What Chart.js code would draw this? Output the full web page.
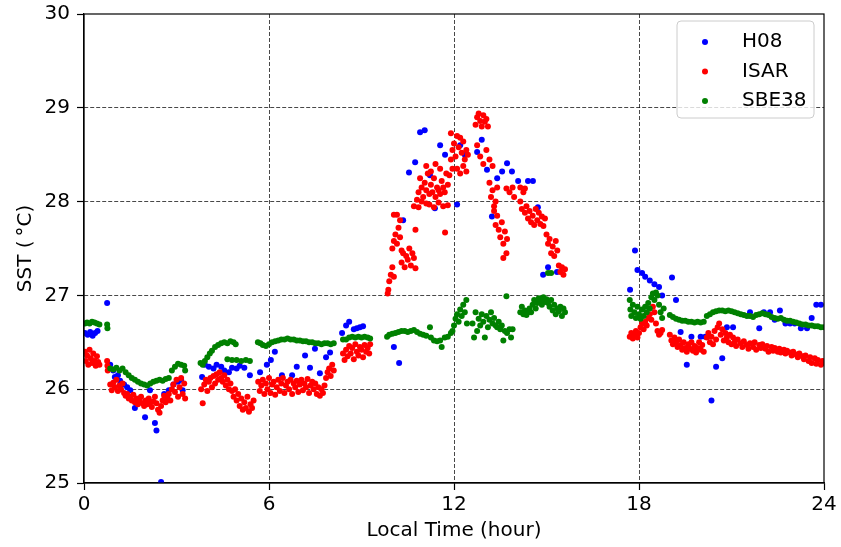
<!DOCTYPE html>
<html>
<head>
<meta charset="utf-8">
<script src="https://cdn.jsdelivr.net/npm/chart.js@4/dist/chart.umd.min.js"></script>
<style>
html,body{margin:0;padding:0;background:#fff;}
#wrap{width:841px;height:547px;position:relative;}
</style>
</head>
<body>
<div id="wrap"><canvas id="c" width="841" height="547"></canvas></div>
<script>
// ---- data: [local time (hour), SST (°C)] ----
const seriesNames = ['H08', 'ISAR', 'SBE38'];
const xTicks = [0, 6, 12, 18, 24];
const yTicks = [25, 26, 27, 28, 29, 30];

const h08 = [
[0.03,26.60],[0.12,26.58],[0.2,26.61],[0.28,26.57],[0.36,26.60],[0.44,26.62],[0.75,26.92],
[0.85,26.26],[0.95,26.20],[1.0,26.13],[1.1,26.15],[1.17,26.09],[1.3,26.05],[1.4,26.02],[1.5,25.99],[1.65,25.80],[1.8,25.90],[1.98,25.70],[2.14,25.99],[2.3,25.64],[2.35,25.56],[2.5,25.01],[2.6,25.95],[2.75,25.99],[2.9,26.05],[3.05,26.08],[3.15,26.10],[3.2,25.99],
[3.83,26.13],[3.92,26.26],[4.05,26.24],[4.2,26.22],[4.3,26.26],[4.45,26.24],[4.55,26.20],[4.7,26.18],[4.8,26.23],[4.95,26.22],[5.05,26.25],[5.2,26.23],[5.38,26.15],
[5.71,26.18],[5.93,26.26],[6.06,26.31],[6.19,26.40],[6.42,26.15],[6.75,26.15],[6.9,26.24],[7.17,26.36],[7.33,26.23],[7.49,26.43],[7.65,26.17],[7.85,26.34],[7.98,26.39],
[8.37,26.60],[8.5,26.68],[8.6,26.72],[8.75,26.64],[8.85,26.65],[8.95,26.66],[9.05,26.67],
[10.05,26.45],[10.22,26.28],[10.35,27.80],[10.54,28.31],[10.74,28.42],[10.9,28.74],[11.05,28.76],[11.22,28.28],[11.38,27.93],[11.55,28.60],[11.71,28.50],[12.1,27.97],[12.2,28.60],[12.35,28.50],[12.75,28.53],[12.9,28.66],[13.07,28.34],[13.23,27.84],[13.4,28.25],[13.56,28.32],[13.72,28.41],[13.88,28.32],[14.08,28.22],[14.4,28.22],[14.56,28.22],[14.72,27.94],[14.89,27.22],[15.05,27.30],[15.34,27.25],
[17.71,27.06],[17.87,27.48],[17.95,27.27],[18.1,27.24],[18.2,27.20],[18.35,27.16],[18.5,27.12],[18.65,27.09],[18.75,27.00],[19.07,27.19],[19.2,26.95],[19.35,26.61],[19.55,26.26],[19.7,26.56],[20.0,26.56],[20.15,26.56],[20.35,25.88],[20.5,26.24],[20.7,26.33],[20.85,26.66],[21.05,26.66],[21.6,26.82],[21.9,26.65],[22.05,26.82],[22.25,26.82],[22.4,26.74],[22.57,26.84],[22.75,26.70],[22.9,26.70],[23.05,26.70],[23.25,26.65],[23.45,26.65],[23.6,26.76],[23.75,26.90],[23.9,26.90]
];

const isar = [
[0.03,26.40],[0.06,26.30],[0.1,26.36],[0.14,26.26],[0.18,26.42],[0.22,26.33],[0.26,26.28],[0.3,26.38],[0.34,26.30],[0.38,26.25],[0.42,26.35],[0.46,26.29],[0.5,26.26],[0.75,26.30],[0.76,26.25],[0.77,26.20],
[0.85,26.05],[0.9,25.99],[0.95,26.07],[1.0,26.02],[1.05,26.10],[1.1,25.98],[1.15,26.04],[1.2,26.00],[1.25,26.06],[1.3,25.96],[1.35,25.93],[1.4,25.95],[1.45,25.90],[1.5,25.92],[1.55,25.88],[1.6,25.94],[1.65,25.86],[1.7,25.90],[1.75,25.84],[1.8,25.88],[1.85,25.92],[1.9,25.85],[1.95,25.82],[2.0,25.88],[2.05,25.84],[2.1,25.90],[2.15,25.86],[2.2,25.81],[2.25,25.87],[2.3,25.92],[2.35,25.85],[2.4,25.78],[2.45,25.75],[2.5,25.82],[2.55,25.88],[2.6,25.93],[2.65,25.86],[2.7,25.91],[2.75,25.95],[2.8,25.88],[2.85,26.00],[2.9,26.05],[2.95,25.97],[3.0,26.10],[3.05,25.92],[3.1,26.02],[3.15,26.12],[3.2,25.95],[3.25,26.06],[3.28,25.90],
[3.8,26.00],[3.85,25.85],[3.9,26.05],[3.95,26.10],[4.0,25.98],[4.05,26.08],[4.1,26.12],[4.15,26.02],[4.2,26.14],[4.25,26.06],[4.3,26.16],[4.35,26.10],[4.4,26.18],[4.45,26.12],[4.5,26.08],[4.55,26.15],[4.6,26.04],[4.65,26.10],[4.7,26.00],[4.75,26.06],[4.8,25.98],[4.85,25.92],[4.9,26.00],[4.95,25.88],[5.0,25.95],[5.05,25.82],[5.1,25.90],[5.15,25.78],[5.2,25.86],[5.25,25.80],[5.3,25.92],[5.35,25.76],[5.4,25.84],[5.45,25.80],[5.5,25.88],
[5.65,26.08],[5.7,25.98],[5.75,26.04],[5.8,26.10],[5.85,25.95],[5.9,26.06],[5.95,26.00],[6.0,26.12],[6.05,25.96],[6.1,26.05],[6.15,26.08],[6.2,25.94],[6.25,26.02],[6.3,26.10],[6.35,25.98],[6.4,26.06],[6.45,26.12],[6.5,25.96],[6.55,26.04],[6.6,26.08],[6.65,26.00],[6.7,26.10],[6.75,25.95],[6.8,26.06],[6.85,26.02],[6.9,26.09],[6.95,25.97],[7.0,26.05],[7.05,26.10],[7.1,25.99],[7.15,26.06],[7.2,26.02],[7.25,26.11],[7.3,25.96],[7.35,26.04],[7.4,26.08],[7.45,26.00],[7.5,26.06],[7.55,25.95],[7.6,26.02],[7.65,25.93],[7.7,26.00],[7.75,25.96],[7.8,26.04],[7.85,26.12],[7.9,26.18],[7.95,26.22],[8.0,26.14],[8.05,26.26],[8.1,26.20],
[8.4,26.38],[8.45,26.31],[8.5,26.42],[8.55,26.35],[8.6,26.46],[8.65,26.38],[8.7,26.44],[8.75,26.32],[8.8,26.48],[8.85,26.40],[8.9,26.36],[8.95,26.45],[9.0,26.42],[9.05,26.34],[9.1,26.47],[9.15,26.40],[9.2,26.44],[9.25,26.38],[9.28,26.48],
[9.85,27.02],[9.87,27.06],[9.9,27.15],[9.95,27.22],[10.0,27.30],[10.05,27.20],
[10.0,27.50],[10.05,27.58],[10.1,27.65],[10.15,27.55],[10.2,27.72],[10.25,27.62],[10.3,27.48],[10.05,27.86],[10.15,27.86],[10.25,27.80],
[10.3,27.35],[10.35,27.45],[10.4,27.30],[10.45,27.42],[10.5,27.38],[10.55,27.50],[10.6,27.32],[10.65,27.45],[10.7,27.40],[10.75,27.29],[10.75,27.70],
[10.7,27.95],[10.8,28.02],[10.85,27.94],[10.95,28.00],[11.1,27.98],
[10.85,28.10],[10.9,28.25],[10.95,28.15],[11.0,28.05],[11.05,28.20],[11.1,28.12],[11.15,28.30],[11.2,28.08],[11.25,28.18],[11.3,28.10],[11.35,28.25],[11.4,28.05],[11.45,28.15],[11.5,28.12],[11.55,28.08],[11.6,28.22],[11.65,28.15],[11.7,28.10],[11.75,28.30],[11.8,28.18],[11.85,28.28],[11.9,28.45],[11.95,28.35],
[11.1,28.38],[11.25,28.32],[11.4,28.40],[11.55,28.35],
[11.2,27.97],[11.35,27.94],[11.5,27.99],[11.65,27.95],[11.8,27.96],[11.71,27.67],
[11.9,28.73],[11.95,28.55],[12.0,28.62],[12.05,28.48],[12.1,28.70],[12.15,28.58],[12.2,28.68],[12.25,28.52],[12.3,28.64],[12.35,28.45],[12.4,28.55],[12.45,28.50],
[12.1,28.35],[12.2,28.30],[12.3,28.38],[12.4,28.32],
[12.7,28.82],[12.75,28.90],[12.8,28.94],[12.85,28.86],[12.9,28.80],[12.95,28.92],[13.0,28.85],[13.05,28.88],[13.1,28.80],
[12.75,28.60],[12.85,28.48],[12.95,28.40],[13.05,28.55],[13.15,28.45],[13.25,28.38],
[13.15,28.20],[13.2,28.05],[13.25,28.12],[13.3,27.95],[13.35,28.00],[13.4,28.15],
[13.3,27.90],[13.35,27.75],[13.4,27.85],[13.45,27.70],[13.5,27.62],[13.55,27.78],[13.6,27.55],[13.65,27.68],[13.7,27.45],[13.72,27.60],[13.6,27.40],
[13.7,28.14],[13.8,28.10],[13.9,28.15],[13.95,28.05],[14.15,28.15],[14.3,28.14],
[14.15,28.00],[14.2,27.92],[14.25,28.10],[14.3,27.88],[14.35,27.95],[14.4,27.82],[14.45,27.90],[14.5,27.78],[14.55,27.85],[14.6,27.75],[14.65,27.92],[14.7,27.80],[14.75,27.88],[14.8,27.76],[14.85,27.84],[14.9,27.74],[14.95,27.82],
[15.0,27.65],[15.05,27.55],[15.1,27.60],[15.15,27.45],[15.2,27.52],[15.25,27.42],[15.3,27.58],[15.35,27.48],
[15.4,27.32],[15.45,27.25],[15.5,27.30],[15.55,27.22],[15.6,27.28],
[17.7,26.56],[17.75,26.60],[17.8,26.54],[17.85,26.58],[17.9,26.62],[17.95,26.55],[18.0,26.60],[18.05,26.66],[18.1,26.70],[18.15,26.64],[18.2,26.72],[18.25,26.68],[18.3,26.76],[18.35,26.80],[18.4,26.74],[18.45,26.88],[18.5,26.82],[18.55,26.70],[18.6,26.62],[18.65,26.58],[18.7,26.60],[18.75,26.63],
[19.0,26.58],[19.05,26.52],[19.1,26.48],[19.15,26.55],[19.2,26.50],[19.25,26.45],[19.3,26.53],[19.35,26.47],[19.4,26.42],[19.45,26.50],[19.5,26.44],[19.55,26.40],[19.6,26.48],[19.65,26.43],[19.7,26.50],[19.75,26.41],[19.8,26.46],[19.85,26.39],[19.9,26.44],[19.95,26.50],[20.0,26.42],[20.05,26.47],[20.1,26.40],
[20.2,26.55],[20.25,26.60],[20.3,26.50],[20.35,26.56],[20.4,26.48],[20.45,26.62],[20.5,26.53],[20.55,26.66],[20.6,26.70],[20.65,26.58],[20.7,26.64],[20.75,26.52],[20.8,26.60],[20.85,26.55],[20.9,26.50],[20.95,26.58],[21.0,26.48],[21.05,26.55],[21.1,26.50],[21.15,26.46],
[21.2,26.53],[21.3,26.49],[21.35,26.45],[21.4,26.51],[21.5,26.47],[21.55,26.43],[21.6,26.49],[21.7,26.45],[21.75,26.50],[21.8,26.42],[21.9,26.47],[21.95,26.44],[22.0,26.48],[22.1,26.43],[22.15,26.46],[22.2,26.40],[22.3,26.45],[22.35,26.41],[22.4,26.44],[22.5,26.40],[22.55,26.43],[22.6,26.39],[22.7,26.42],[22.75,26.38],[22.8,26.41],[22.9,26.39],[22.95,26.36],[23.0,26.40],[23.1,26.37],[23.15,26.34],[23.2,26.38],[23.3,26.35],[23.35,26.32],[23.4,26.36],[23.5,26.30],[23.55,26.34],[23.6,26.28],[23.7,26.33],[23.75,26.27],[23.8,26.31],[23.9,26.26],[23.95,26.30],[24.0,26.28]
];

const sbe38 = [
[0.03,26.70],[0.1,26.71],[0.18,26.70],[0.26,26.72],[0.34,26.71],[0.42,26.70],[0.5,26.69],[0.75,26.69],[0.76,26.65],
[0.85,26.22],[0.95,26.21],[1.05,26.23],[1.15,26.20],[1.25,26.22],[1.35,26.18],[1.45,26.15],[1.55,26.12],[1.65,26.10],[1.75,26.08],[1.85,26.06],[1.95,26.05],[2.05,26.04],[2.15,26.06],[2.25,26.08],[2.35,26.09],[2.45,26.10],[2.55,26.09],[2.65,26.11],[2.75,26.12],[2.85,26.20],[2.95,26.24],[3.05,26.27],[3.15,26.26],[3.25,26.25],[3.28,26.20],
[3.78,26.28],[3.85,26.26],[3.92,26.30],[4.0,26.34],[4.08,26.38],[4.15,26.41],[4.25,26.45],[4.35,26.47],[4.45,26.49],[4.55,26.50],[4.65,26.49],[4.75,26.51],[4.85,26.50],[4.92,26.48],
[4.65,26.32],[4.8,26.31],[4.95,26.31],[5.1,26.30],[5.25,26.31],[5.38,26.30],
[5.64,26.50],[5.72,26.49],[5.8,26.47],[5.9,26.46],[6.0,26.48],[6.1,26.50],[6.2,26.51],[6.3,26.52],[6.4,26.53],[6.5,26.53],[6.6,26.54],[6.7,26.53],[6.8,26.53],[6.9,26.52],[7.0,26.52],[7.1,26.51],[7.2,26.51],[7.3,26.50],[7.4,26.50],[7.5,26.49],[7.6,26.49],[7.7,26.48],[7.8,26.49],[7.9,26.49],[8.0,26.48],[8.1,26.49],
[8.4,26.53],[8.5,26.53],[8.6,26.55],[8.7,26.56],[8.8,26.55],[8.9,26.56],[9.0,26.55],[9.1,26.56],[9.2,26.55],[9.28,26.54],
[9.83,26.56],[9.9,26.58],[10.0,26.59],[10.1,26.60],[10.2,26.61],[10.3,26.62],[10.4,26.62],[10.5,26.61],[10.6,26.62],[10.7,26.63],[10.8,26.61],[10.9,26.59],[11.0,26.58],[11.1,26.57],[11.22,26.66],[11.25,26.55],[11.35,26.52],[11.45,26.51],[11.55,26.52],[11.6,26.45],[11.7,26.55],[11.8,26.56],[11.9,26.60],
[11.95,26.62],[12.0,26.68],[12.05,26.75],[12.1,26.80],[12.15,26.72],[12.2,26.85],[12.25,26.78],[12.3,26.90],[12.35,26.82],[12.4,26.95],[12.42,26.70],
[12.6,26.70],[12.65,26.55],[12.7,26.82],[12.75,26.62],[12.8,26.75],[12.85,26.68],[12.9,26.80],[12.95,26.72],[13.0,26.55],[13.05,26.78],[13.1,26.66],[13.15,26.74],[13.2,26.82],[13.25,26.70],[13.3,26.76],[13.35,26.68],[13.4,26.66],[13.45,26.72],[13.5,26.64],[13.55,26.68],[13.6,26.52],[13.65,26.62],[13.7,26.99],[13.72,26.60],[13.8,26.64],[13.85,26.55],[13.9,26.64],
[14.15,26.82],[14.2,26.88],[14.25,26.80],[14.3,26.84],[14.35,26.79],[14.4,26.82],[14.45,26.86],[14.5,26.82],[14.55,26.90],[14.6,26.95],[14.65,26.86],[14.7,26.92],[14.75,26.97],[14.8,26.95],[14.85,26.90],[14.9,26.98],[14.95,26.93],[15.0,26.96],[15.05,26.92],[15.1,26.88],[15.15,26.95],[15.2,26.84],[15.25,26.90],[15.3,26.80],[15.35,26.86],[15.4,26.83],[15.45,26.88],[15.5,26.78],[15.55,26.86],[15.6,26.82],[15.05,27.24],[15.15,27.24],
[17.7,26.95],[17.72,26.85],[17.75,26.78],[17.8,26.90],[17.85,26.82],[17.9,26.76],[17.95,26.88],[18.0,26.80],[18.05,26.75],[18.1,26.85],[18.15,26.78],[18.2,26.88],[18.25,26.82],[18.3,26.92],[18.35,26.86],[18.4,26.98],[18.45,27.02],[18.5,26.95],[18.55,27.03],[18.6,27.00],[18.65,26.90],[18.7,26.82],[18.75,26.76],[18.8,26.86],
[19.0,26.79],[19.1,26.77],[19.2,26.75],[19.3,26.74],[19.4,26.73],[19.5,26.73],[19.6,26.72],[19.7,26.72],[19.8,26.71],[19.9,26.72],[20.0,26.71],[20.1,26.72],[20.2,26.78],[20.3,26.80],[20.4,26.82],[20.5,26.83],[20.6,26.84],[20.7,26.84],[20.8,26.83],[20.9,26.84],[21.0,26.83],[21.1,26.82],[21.2,26.81],[21.3,26.80],[21.4,26.79],[21.5,26.78],[21.6,26.78],[21.7,26.77],[21.8,26.79],[21.9,26.80],[22.0,26.81],[22.1,26.80],[22.2,26.79],[22.3,26.77],[22.4,26.76],[22.5,26.75],[22.6,26.76],[22.7,26.74],[22.8,26.73],[22.9,26.73],[23.0,26.72],[23.1,26.71],[23.2,26.70],[23.3,26.69],[23.4,26.69],[23.5,26.68],[23.6,26.68],[23.7,26.67],[23.8,26.67],[23.9,26.66],[24.0,26.66]
];

const colors = ['#0000ff', '#ff0000', '#008000'];
const FONT = 'DejaVu Sans';

function toXY(arr) { return arr.map(p => ({x: p[0], y: p[1]})); }

const frameAndLegend = {
  id: 'frameAndLegend',
  afterDraw(chart) {
    const {ctx, chartArea: a} = chart;
    ctx.save();
    ctx.strokeStyle = '#000';
    ctx.lineWidth = 1.2;
    ctx.strokeRect(a.left, a.top, a.right - a.left, a.bottom - a.top);
    const bx = 677, by = 21, bw = 137, bh = 97, r = 4;
    ctx.beginPath();
    ctx.moveTo(bx + r, by);
    ctx.lineTo(bx + bw - r, by); ctx.quadraticCurveTo(bx + bw, by, bx + bw, by + r);
    ctx.lineTo(bx + bw, by + bh - r); ctx.quadraticCurveTo(bx + bw, by + bh, bx + bw - r, by + bh);
    ctx.lineTo(bx + r, by + bh); ctx.quadraticCurveTo(bx, by + bh, bx, by + bh - r);
    ctx.lineTo(bx, by + r); ctx.quadraticCurveTo(bx, by, bx + r, by);
    ctx.closePath();
    ctx.fillStyle = 'rgba(255,255,255,0.8)';
    ctx.fill();
    ctx.strokeStyle = '#cccccc';
    ctx.lineWidth = 1;
    ctx.stroke();
    ctx.font = '20px "' + FONT + '"';
    ctx.textBaseline = 'middle';
    ctx.textAlign = 'left';
    chart.data.datasets.forEach((ds, i) => {
      const y = 42 + i * 29.5;
      ctx.beginPath();
      ctx.arc(705, y, 3, 0, Math.PI * 2);
      ctx.fillStyle = ds.backgroundColor;
      ctx.fill();
      ctx.fillStyle = '#000';
      ctx.fillText(ds.label, 742, y);
    });
    ctx.restore();
  }
};

const edgeTransparent = (vals) => (c) => {
  const v = c.tick ? c.tick.value : null;
  return (v === vals[0] || v === vals[vals.length - 1]) ? 'rgba(0,0,0,0)' : 'rgba(0,0,0,0.9)';
};

new Chart(document.getElementById('c'), {
  type: 'scatter',
  data: {
    datasets: [
      {label: seriesNames[0], data: toXY(h08), backgroundColor: colors[0], borderColor: colors[0], pointRadius: 3, pointBorderWidth: 0, order: 3},
      {label: seriesNames[1], data: toXY(isar), backgroundColor: colors[1], borderColor: colors[1], pointRadius: 3, pointBorderWidth: 0, order: 2},
      {label: seriesNames[2], data: toXY(sbe38), backgroundColor: colors[2], borderColor: colors[2], pointRadius: 3, pointBorderWidth: 0, order: 1}
    ]
  },
  options: {
    responsive: false,
    animation: false,
    events: [],
    layout: {padding: {left: 0, top: 14, right: 17, bottom: 0}},
    plugins: {legend: {display: false}, tooltip: {enabled: false}},
    scales: {
      x: {
        type: 'linear', min: 0, max: 24,
        afterBuildTicks: (s) => { s.ticks = xTicks.map(v => ({value: v})); },
        afterFit: (s) => { s.height = 64; s.paddingLeft = 0; s.paddingRight = 0; },
        ticks: {color: '#000', font: {family: FONT, size: 20}, padding: 3, maxRotation: 0},
        grid: {color: edgeTransparent(xTicks), lineWidth: 0.8, tickColor: '#000', tickLength: 7, tickWidth: 1.2, tickBorderDash: []},
        border: {display: true, color: '#000', width: 1.2, dash: [4, 2]},
        title: {display: true, text: 'Local Time (hour)', color: '#000', font: {family: FONT, size: 20}, padding: {top: 0, bottom: 4}}
      },
      y: {
        type: 'linear', min: 25, max: 30,
        afterBuildTicks: (s) => { s.ticks = yTicks.map(v => ({value: v})); },
        afterFit: (s) => { s.width = 84; s.paddingTop = 0; s.paddingBottom = 0; },
        ticks: {color: '#000', font: {family: FONT, size: 20}, padding: 7},
        grid: {color: edgeTransparent(yTicks), lineWidth: 0.8, tickColor: '#000', tickLength: 7, tickWidth: 1.2, tickBorderDash: []},
        border: {display: true, color: '#000', width: 1.2, dash: [4, 2]},
        title: {display: true, text: 'SST (\u2009\u00B0C)', color: '#000', font: {family: FONT, size: 20}, padding: {top: 14, bottom: 0}}
      }
    }
  },
  plugins: [frameAndLegend]
});
</script>
</body>
</html>
